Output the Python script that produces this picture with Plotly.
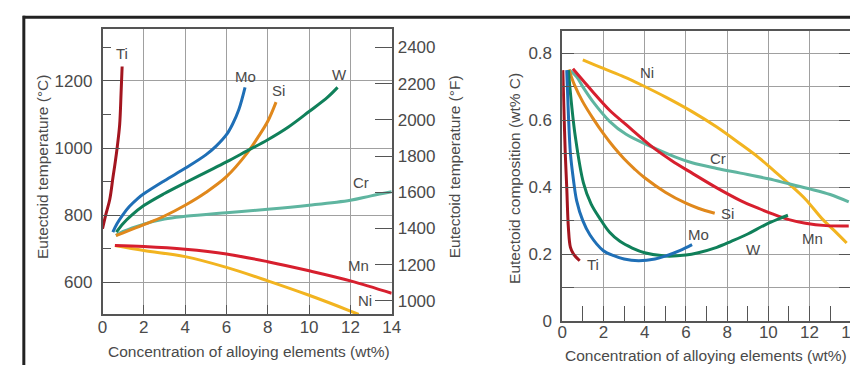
import plotly.graph_objects as go

# ---------------- data: left panel (eutectoid temperature, °C) ----------------
ti_t_x = [0, 0.15, 0.35, 0.51, 0.62, 0.71, 0.83, 0.9, 0.95]
ti_t_y = [760, 800, 847, 915, 960, 1002, 1070, 1167, 1243]
mo_t_x = [0.5, 0.7, 1.0, 1.3, 1.7, 2.0, 3.0, 4.0, 5.0, 5.5, 6.0, 6.3, 6.6, 6.9]
mo_t_y = [750, 775, 803, 826, 850, 864, 903, 940, 980, 1006, 1040, 1072, 1115, 1181]
si_t_x = [0.65, 1, 2, 3, 4, 5, 6, 7, 7.5, 8, 8.4]
si_t_y = [740, 748, 772, 798, 830, 868, 915, 985, 1030, 1080, 1137]
w_t_x = [0.67, 1.0, 1.4, 2.0, 3.0, 4.0, 5.0, 6.0, 7.0, 8.0, 9.0, 10.0, 10.9, 11.38]
w_t_y = [750, 776, 800, 829, 865, 897, 928, 959, 992, 1025, 1063, 1109, 1152, 1181]
cr_t_x = [0.65, 1, 2, 3, 4, 6, 8, 10, 12, 13, 14]
cr_t_y = [740, 752, 774, 789, 797, 808, 818, 830, 845, 858, 870]
mn_t_x = [0.6, 2, 4, 6, 8, 10, 12, 14]
mn_t_y = [710, 707, 699, 685, 662, 635, 605, 568]
ni_t_x = [0.6, 2, 4, 6, 8, 10, 12, 12.4]
ni_t_y = [710, 695, 677, 645, 605, 562, 515, 505]

# ---------------- data: right panel (eutectoid composition, wt% C) ----------------
ti_c_x = [0.03, 0.08, 0.15, 0.22, 0.3, 0.4, 0.55, 0.85]
ti_c_y = [0.75, 0.64, 0.5, 0.4, 0.28, 0.22, 0.2, 0.18]
mo_c_x = [0.22, 0.3, 0.4, 0.55, 0.7, 1.0, 1.35, 2.0, 2.5, 3.0, 3.7, 4.5, 5.0, 5.7, 6.3]
mo_c_y = [0.75, 0.62, 0.5, 0.42, 0.36, 0.3, 0.257, 0.21, 0.195, 0.185, 0.18, 0.185, 0.194, 0.21, 0.228]
w_c_x = [0.3, 0.45, 0.64, 1.03, 1.4, 1.83, 2.3, 2.8, 3.4, 4.0, 5.0, 6.0, 6.6, 7.5, 8.2, 9.0, 9.8, 10.5, 10.95]
w_c_y = [0.75, 0.65, 0.55, 0.413, 0.35, 0.306, 0.265, 0.238, 0.218, 0.204, 0.194, 0.197, 0.204, 0.22, 0.238, 0.26, 0.286, 0.305, 0.316]
si_c_x = [0.32, 0.6, 1.0, 1.5, 2.0, 2.5, 3.0, 3.5, 4.0, 5.0, 6.0, 6.6, 7.4]
si_c_y = [0.752, 0.705, 0.655, 0.605, 0.56, 0.52, 0.485, 0.455, 0.428, 0.385, 0.352, 0.337, 0.322]
cr_c_x = [0.35, 0.7, 1.0, 1.5, 2.3, 3.1, 4.4, 5.5, 6.3, 7.5, 8.65, 10, 11, 12, 13, 13.9]
cr_c_y = [0.75, 0.73, 0.7, 0.655, 0.597, 0.558, 0.519, 0.49, 0.473, 0.456, 0.442, 0.425, 0.41, 0.395, 0.378, 0.356]
mn_c_x = [0.52, 1, 1.5, 2.3, 3.1, 4.4, 5.3, 6.3, 7.5, 8.65, 9.5, 10.2, 11, 11.8, 12.8, 13.9]
mn_c_y = [0.754, 0.72, 0.684, 0.63, 0.587, 0.519, 0.48, 0.442, 0.398, 0.36, 0.337, 0.32, 0.303, 0.292, 0.285, 0.284]
ni_c_x = [1, 2, 3, 3.9, 5, 6.3, 7.5, 8.65, 9.5, 10.24, 11, 11.8, 12.6, 13.2, 13.8]
ni_c_y = [0.781, 0.755, 0.73, 0.704, 0.67, 0.626, 0.58, 0.529, 0.49, 0.451, 0.41, 0.364, 0.306, 0.27, 0.233]

left_ticks_c = [600, 800, 1000, 1200]
right_ticks_f = [1000, 1200, 1400, 1600, 1800, 2000, 2200, 2400]
x_ticks = [0, 2, 4, 6, 8, 10, 12, 14]
comp_ticks = [0, 0.2, 0.4, 0.6, 0.8]
comp_tick_text = ["0", "0.2", "0.4", "0.6", "0.8"]

COL = {"Ti": "#a3151f", "Mo": "#1f6fb6", "Si": "#e0881c", "W": "#10805a",
       "Cr": "#5fb5a0", "Mn": "#d71f2e", "Ni": "#f2b420"}

FONT = "Liberation Sans, Arial, sans-serif"
TXT = "#4a4a4a"
AX = "#555555"
GRID = "#a0a0a0"

fig = go.Figure()

left_series = [("Ti", ti_t_x, ti_t_y), ("Cr", cr_t_x, cr_t_y), ("Si", si_t_x, si_t_y),
               ("W", w_t_x, w_t_y), ("Mo", mo_t_x, mo_t_y), ("Ni", ni_t_x, ni_t_y),
               ("Mn", mn_t_x, mn_t_y)]
for name, xs, ys in left_series:
    fig.add_trace(go.Scatter(x=xs, y=ys, mode="lines", xaxis="x", yaxis="y",
                             line=dict(color=COL[name], width=3, shape="spline", smoothing=1.0),
                             showlegend=False, hoverinfo="skip"))

right_series = [("Ni", ni_c_x, ni_c_y), ("Cr", cr_c_x, cr_c_y), ("Mn", mn_c_x, mn_c_y),
                ("Si", si_c_x, si_c_y), ("W", w_c_x, w_c_y), ("Mo", mo_c_x, mo_c_y),
                ("Ti", ti_c_x, ti_c_y)]
for name, xs, ys in right_series:
    fig.add_trace(go.Scatter(x=xs, y=ys, mode="lines", xaxis="x2", yaxis="y2",
                             line=dict(color=COL[name], width=3, shape="spline", smoothing=1.0),
                             showlegend=False, hoverinfo="skip"))

# dummy trace so the °F axis is drawn
fig.add_trace(go.Scatter(x=[None], y=[None], xaxis="x", yaxis="y3", showlegend=False))

W, H = 858, 367
xd1 = [91 / W, 385 / W]
yd1 = [1 - 315 / H, 1 - 21.5 / H]
xd2 = [558.3 / W, 851.7 / W]
yd2 = [1 - 321.7 / H, 1 - 23.3 / H]

tickfont = dict(family=FONT, size=17, color=TXT)

fig.update_layout(
    width=W, height=H, margin=dict(l=0, r=0, t=0, b=0),
    paper_bgcolor="white", plot_bgcolor="white",
    xaxis=dict(domain=xd1, range=[0, 14], tickvals=x_ticks, ticks="inside", ticklen=10,
               tickcolor=AX, showgrid=True, gridcolor=GRID, gridwidth=1,
               showline=True, linecolor=AX, linewidth=1.5, mirror=True,
               tickfont=tickfont, zeroline=False, anchor="y", ticklabelstandoff=-4),
    yaxis=dict(domain=yd1, range=[505, 1355], tickvals=left_ticks_c, ticks="inside", ticklen=18,
               tickcolor=AX, showgrid=True, gridcolor=GRID, gridwidth=1,
               showline=True, linecolor=AX, linewidth=1.5, mirror=True,
               minor=dict(dtick=100, ticks="inside", ticklen=9, tickcolor=AX, showgrid=False),
               tickfont=tickfont, zeroline=False, anchor="x", ticklabelstandoff=5),
    yaxis3=dict(overlaying="y", side="right", anchor="x", range=[924.7, 2502.4],
                tickvals=right_ticks_f, ticks="inside", ticklen=17, tickcolor=AX,
                showgrid=False, zeroline=False, showline=False, tickfont=tickfont,
                ticklabelstandoff=5),
    xaxis2=dict(domain=xd2, range=[0, 14], tickvals=x_ticks, ticks="inside", ticklen=10,
                tickcolor=AX, showgrid=True, gridcolor=GRID, gridwidth=1,
                showline=True, linecolor=AX, linewidth=1.5, mirror=True,
                minor=dict(dtick=1, tick0=1, ticks="inside", ticklen=15, tickcolor=AX, showgrid=False),
                tickfont=tickfont, zeroline=False, anchor="y2", ticklabelstandoff=-5),
    yaxis2=dict(domain=yd2, range=[0, 0.868], tickvals=comp_ticks, ticktext=comp_tick_text,
                ticks="inside", ticklen=12,
                tickcolor=AX, showgrid=True, gridcolor=GRID, gridwidth=1,
                showline=True, linecolor=AX, linewidth=1.5, mirror="ticks",
                minor=dict(dtick=0.1, ticks="inside", ticklen=12, tickcolor=AX,
                           showgrid=True, gridcolor=GRID, gridwidth=1),
                tickfont=tickfont, zeroline=False, anchor="x2", ticklabelstandoff=5),
)

anns = []
lab = dict(family=FONT, size=15, color=TXT)
left_labels = [("Ti", 0.95, 1283), ("Mo", 6.94, 1212), ("Si", 8.52, 1172), ("W", 11.46, 1220),
               ("Cr", 12.49, 898), ("Mn", 12.41, 650), ("Ni", 12.73, 545)]
for t, x, y in left_labels:
    anns.append(dict(text=t, x=x, y=y, xref="x", yref="y", showarrow=False, font=lab,
                     xanchor="center", yanchor="middle"))
right_labels = [("Ni", 4.13, 0.742), ("Cr", 7.54, 0.485), ("Si", 8.02, 0.32), ("Mo", 6.59, 0.257),
                ("W", 9.29, 0.214), ("Mn", 12.14, 0.247), ("Ti", 1.48, 0.17)]
for t, x, y in right_labels:
    anns.append(dict(text=t, x=x, y=y, xref="x2", yref="y2", showarrow=False, font=lab,
                     xanchor="center", yanchor="middle"))

title_font = dict(family=FONT, size=15.5, color=TXT)
titles = [
    ("Concentration of alloying elements (wt%)", 240, 353, 0),
    ("Concentration of alloying elements (wt%)", 704, 357, 0),
    ("Eutectoid temperature (°C)", 30, 163, -90),
    ("Eutectoid temperature (°F)", 449, 163, -90),
    ("Eutectoid composition (wt% C)", 510, 175, -90),
]
for t, px, py, ang in titles:
    anns.append(dict(text=t, x=px / W, y=1 - py / H, textangle=ang, xref="paper", yref="paper",
                     showarrow=False, font=title_font, xanchor="center", yanchor="middle"))
fig.update_layout(annotations=anns)

# black frame lines (top and left)
fig.add_shape(type="line", xref="paper", yref="paper", x0=10 / W, x1=1, y0=1 - 9.5 / H, y1=1 - 9.5 / H,
              line=dict(color="#222222", width=3))
fig.add_shape(type="line", xref="paper", yref="paper", x0=11 / W, x1=11 / W, y0=0, y1=1 - 8 / H,
              line=dict(color="#222222", width=3))

fig.write_html("out.html")
